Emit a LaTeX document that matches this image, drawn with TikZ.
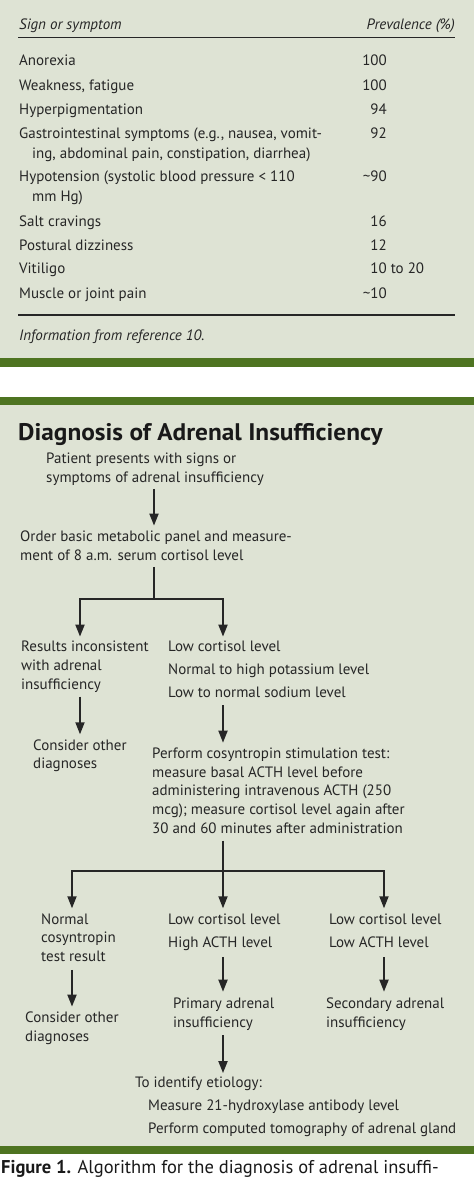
\documentclass[tikz,border=0pt]{standalone}
\usepackage{fontspec}
\setmainfont{PT Sans}
\newfontfamily\titlefont[FakeStretch=1.055]{PT Sans}
\usetikzlibrary{arrows.meta}
\definecolor{panel}{RGB}{222,227,212}
\definecolor{bar}{RGB}{78,116,33}
\definecolor{ink}{RGB}{38,38,38}
\newcommand\bodyfont{\fontsize{15}{18.7}\selectfont}
\newcommand\tabfont{\fontsize{15}{20}\selectfont}
\begin{document}
\begin{tikzpicture}[x=1pt,y=-1pt,
  txt/.style={anchor=north west, inner sep=0pt, align=left, font=\bodyfont, text=ink, yshift=13.09pt},
  row/.style={anchor=north west, inner sep=0pt, align=left, font=\tabfont, text=ink, yshift=14pt},
  num/.style={anchor=base east, inner sep=0pt, font=\tabfont, text=ink},
  hdr/.style={inner sep=0pt, font=\tabfont\itshape, text=ink},
  rulel/.style={line width=1.4pt, draw=ink},
  ln/.style={line width=1.8pt, draw=ink},
  arr/.style={ln, -{Triangle[width=9pt,length=12pt]}}]
\useasboundingbox (0,0) rectangle (474,1178);
% backgrounds
\fill[white] (0,0) rectangle (474,1178);
\fill[panel] (0,0) rectangle (474,358);
\fill[bar] (0,358) rectangle (474,367);
\fill[bar] (0,397) rectangle (474,405);
\fill[panel] (0,405) rectangle (474,1146);
\fill[bar] (0,1146) rectangle (474,1154);

% ---------- table ----------
\node[hdr, anchor=base west] (hs) at (19,29.3) {Sign or symptom};
\node[hdr, anchor=base east] (hp) at (455,29.3) {Prevalence (\%)};
\draw[rulel] (18,37.7) -- (455,37.7);
\node[row] (r1) at (19,65.7) {\strut Anorexia};
\node[num] (n1) at (387,65.7) {100};
\node[row] (r2) at (19,90) {\strut Weakness, fatigue};
\node[num] (n2) at (387,90) {100};
\node[row] (r3) at (19,114) {\strut Hyperpigmentation};
\node[num] (n3) at (387,114) {94};
\node[row] (r4) at (19,138.3) {\strut Gastrointestinal symptoms (e.g., nausea, vomit-\\\hspace*{13pt}ing, abdominal pain, constipation, diarrhea)};
\node[num] (n4) at (387,138.3) {92};
\node[row] (r5) at (19,181.7) {\strut Hypotension (systolic blood pressure < 110\\\hspace*{13pt}mm Hg)};
\node[num] (n5) at (387,181.7) {\textasciitilde 90};
\node[row] (r6) at (19,226) {\strut Salt cravings};
\node[num] (n6) at (387,226) {16};
\node[row] (r7) at (19,250) {\strut Postural dizziness};
\node[num] (n7) at (387,250) {12};
\node[row] (r8) at (19,273.3) {\strut Vitiligo};
\node[num] (n8) at (387,273.3) {10\rlap{ to 20}};
\node[row] (r9) at (19,298.3) {\strut Muscle or joint pain};
\node[num] (n9) at (387,298.3) {\textasciitilde 10};
\draw[rulel] (18,315) -- (455,315);
\node[hdr, anchor=base west] (info) at (19,340) {Information from reference 10.};

% ---------- flowchart ----------
\coordinate (c1) at (154,0);
\coordinate (c2) at (80,0);
\coordinate (c3) at (223,0);
\coordinate (c4) at (72,0);
\coordinate (c5) at (384,0);
\coordinate (j1) at (154,599.3);
\coordinate (j2) at (223,871);

\node[anchor=base west, inner sep=0pt, font=\titlefont\fontsize{24}{28}\selectfont\bfseries, text=black!90] (title) at (18,440) {Diagnosis of Adrenal Insufficiency};

\node[txt] (pat) at (46,463.3) {\strut Patient presents with signs or\\symptoms of adrenal insufficiency};
\node[txt] (ord) at (20,541.7) {\strut Order basic metabolic panel and measure-\\ment of 8 a.m. serum cortisol level};
\node[txt] (res) at (21,651.7) {\strut Results inconsistent\\with adrenal\\insufficiency};
\node[txt] (low1) at (168,651.7) {\strut Low cortisol level\\[3.9pt]Normal to high potassium level\\[3.9pt]Low to normal sodium level};
\node[txt] (cons1) at (33,750) {\strut Consider other\\diagnoses};
\node[txt] (perf) at (152,758.3) {\strut Perform cosyntropin stimulation test:\\measure basal ACTH level before\\administering intravenous ACTH (250\\mcg); measure cortisol level again after\\30 and 60 minutes after administration};
\node[txt] (norm) at (41,924) {\strut Normal\\cosyntropin\\test result};
\node[txt] (low2) at (168,924) {\strut Low cortisol level\\[4.6pt]High ACTH level};
\node[txt] (low3) at (329,924) {\strut Low cortisol level\\[4.6pt]Low ACTH level};
\node[txt] (cons2) at (25,1022.7) {\strut Consider other\\diagnoses};
\node[txt] (prim) at (173,1008.3) {\strut Primary adrenal\\insufficiency};
\node[txt] (sec) at (326,1008.3) {\strut Secondary adrenal\\insufficiency};
\node[txt] (etio) at (135,1087.7) {\strut To identify etiology:\\[3.9pt]\hspace*{13pt}Measure 21-hydroxylase antibody level\\[3.9pt]\hspace*{13pt}Perform computed tomography of adrenal gland};

\draw[arr, shorten <=3.5pt, shorten >=3pt] (pat.south -| c1) -- (ord.north -| c1);
\draw[ln, shorten <=6pt] (ord.south -| c1) -- (j1);
\draw[arr, shorten >=2pt] (j1) -| (res.north -| c2);
\draw[arr, shorten >=2pt] (j1) -| (low1.north -| c3);
\draw[arr, shorten <=4pt, shorten >=2.6pt] (res.south -| c2) -- (cons1.north -| c2);
\draw[arr, shorten <=8pt, shorten >=2.5pt] (low1.south -| c3) -- (perf.north -| c3);
\draw[ln, shorten <=7pt] (perf.south -| c3) -- (j2);
\draw[arr, shorten >=2.6pt] (j2) -| (norm.north -| c4);
\draw[arr, shorten >=2.6pt] (j2) -- (low2.north -| c3);
\draw[arr, shorten >=2.6pt] (j2) -| (low3.north -| c5);
\draw[arr, shorten <=8pt, shorten >=3pt] (norm.south -| c4) -- (cons2.north -| c4);
\draw[arr, shorten <=6pt, shorten >=3.5pt] (low2.south -| c3) -- (prim.north -| c3);
\draw[arr, shorten <=9.4pt, shorten >=3.5pt] (low3.south -| c5) -- (sec.north -| c5);
\draw[arr, shorten <=5pt, shorten >=1.5pt] (prim.south -| c3) -- (etio.north -| c3);

% caption (cut by the page edge)
\node[anchor=base west, inner sep=0pt, font=\fontsize{18.5}{22}\selectfont, text=black!90] (cap) at (1,1173) {\textbf{Figure 1.} Algorithm for the diagnosis of adrenal insuffi-};
\end{tikzpicture}
\end{document}
